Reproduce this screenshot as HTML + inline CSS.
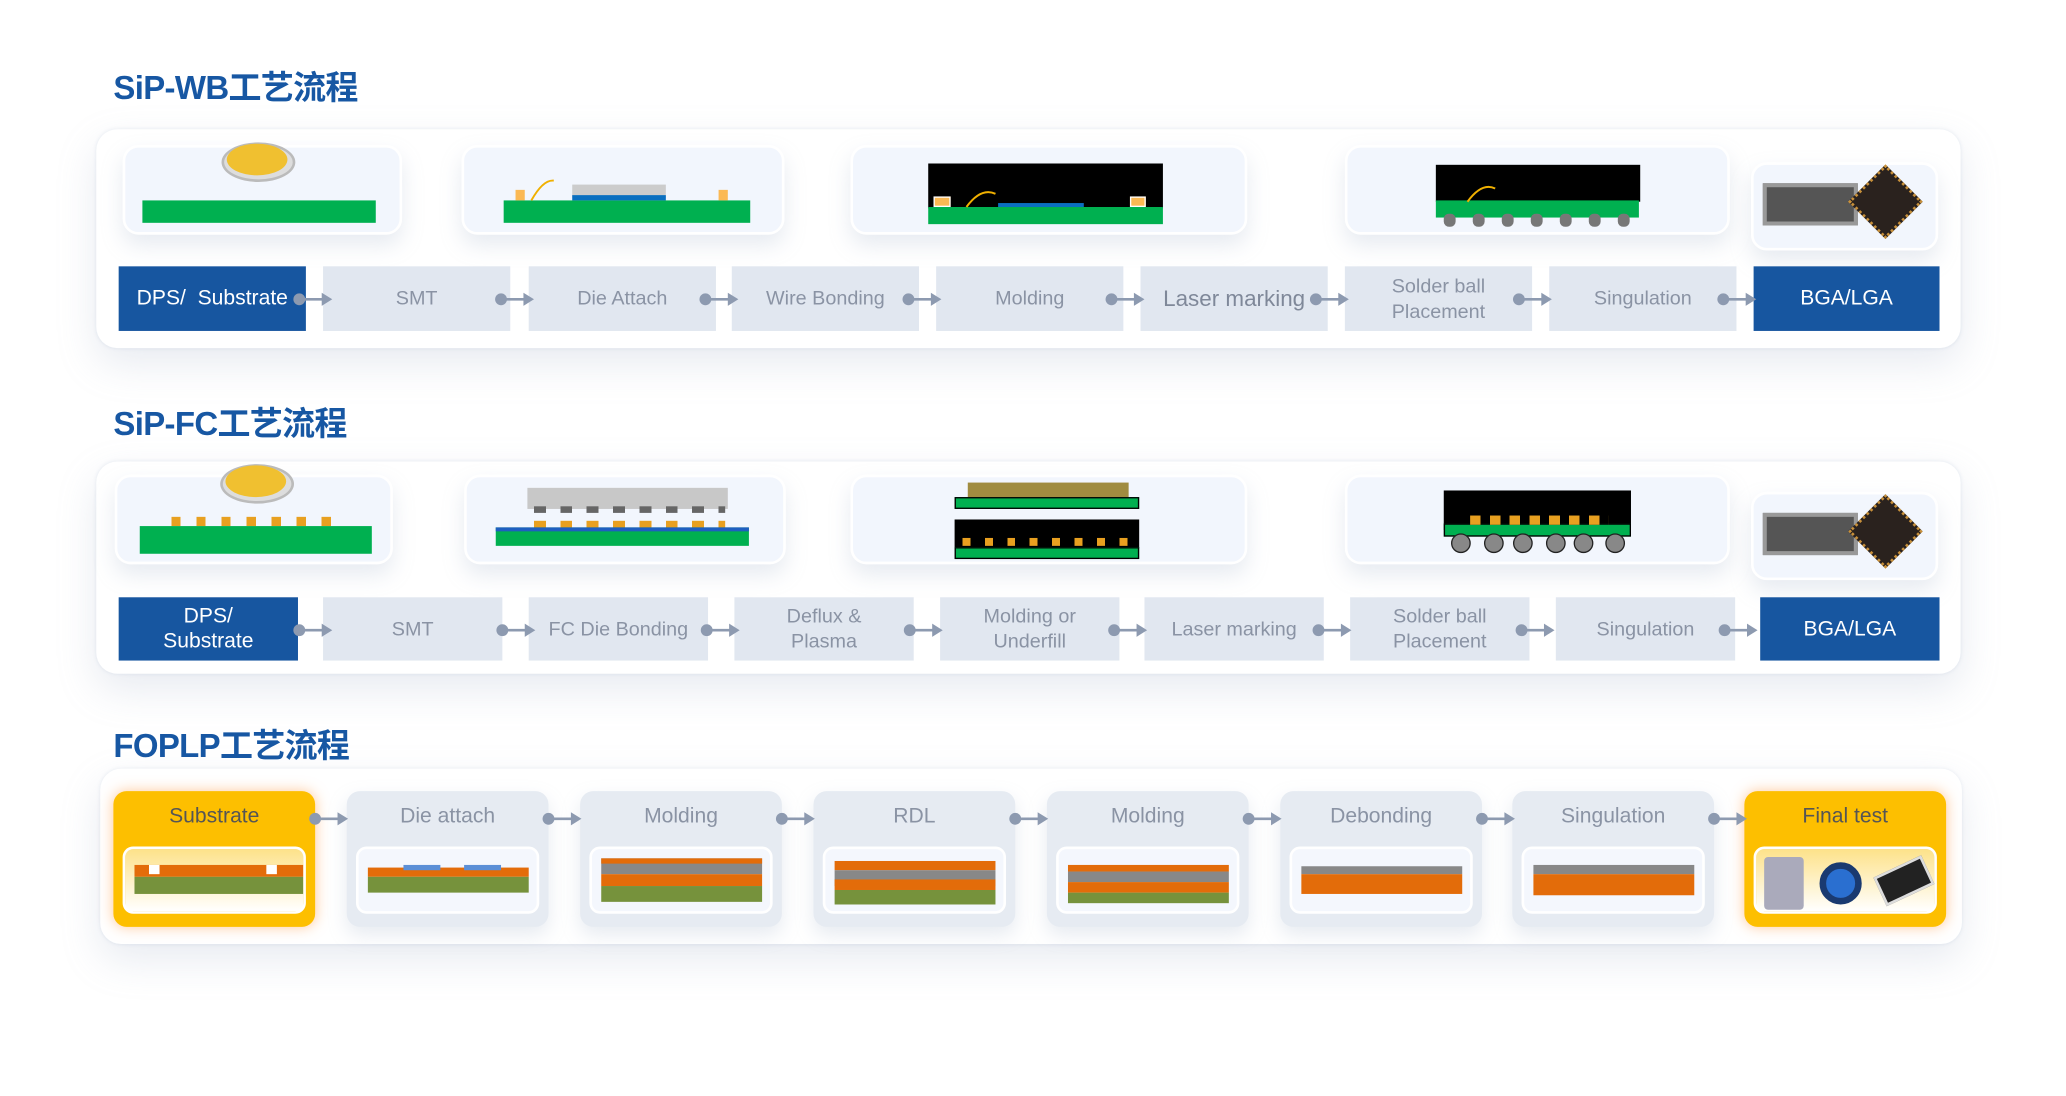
<!DOCTYPE html>
<html><head><meta charset="utf-8"><style>
*{margin:0;padding:0;box-sizing:border-box}
html,body{width:2066px;height:1095px;overflow:hidden;background:#fff}
#s{position:absolute;left:0;top:0;width:1570px;height:831px;transform:scale(1.3185);transform-origin:0 0;font-family:"Liberation Sans","Noto Sans CJK SC",sans-serif}
.a{position:absolute}
.t{position:absolute;color:#1757a3;font-weight:bold;font-size:25px;letter-spacing:-0.5px}
.panel{position:absolute;background:#fff;border-radius:16px;box-shadow:0 12px 30px rgba(150,165,190,.22),0 0 3px rgba(200,210,225,.4)}
.card{position:absolute;background:#f2f6fd;border:2px solid #fff;border-radius:12px;box-shadow:0 8px 16px rgba(160,175,200,.25)}
.b{position:absolute;background:#e1e7f0;color:#8a93a4;font-size:15px;display:flex;align-items:center;justify-content:center;text-align:center;line-height:19px}
.bl{background:#1756a0;color:#fff;font-size:16px}
.fc{position:absolute;background:#e6ebf2;border-radius:10px;top:600px;width:153px;height:103px;box-shadow:0 6px 14px rgba(160,175,200,.25)}
.fc .l{position:absolute;top:11px;width:100%;text-align:center;color:#8a93a4;font-size:16px}
.fc .w{position:absolute;left:7px;right:7px;top:42px;height:51px;background:#f4f7fd;border:2px solid #fff;border-radius:8px;overflow:hidden}
.y{background:#fdbf00;box-shadow:0 0 10px rgba(255,150,60,.5)}
.y .l{color:#555}
.y .w{background:linear-gradient(#fde28a,#fff)}
</style></head><body><div id="s">

<!-- Row 1 -->
<div class="panel" style="left:73px;top:98px;width:1414px;height:166px"></div>
<div class="t" style="left:86px;top:47px">SiP-WB工艺流程</div>

<div class="card" style="left:93px;top:110px;width:212px;height:68px"></div>
<div class="a" style="left:168px;top:108px;width:56px;height:30px;border-radius:50%;background:#ddd;border:2px solid #bbb"></div>
<div class="a" style="left:172px;top:109px;width:46px;height:24px;border-radius:50%;background:#f0c030"></div>
<div class="a" style="left:108px;top:152px;width:177px;height:17px;background:#00b050"></div>

<div class="card" style="left:350px;top:110px;width:245px;height:68px"></div>
<div class="a" style="left:382px;top:152px;width:187px;height:17px;background:#00b050"></div>
<div class="a" style="left:434px;top:140px;width:71px;height:10px;background:#ccc"></div>
<div class="a" style="left:434px;top:148px;width:71px;height:4px;background:#0a6fc0"></div>
<div class="a" style="left:391px;top:144px;width:7px;height:8px;background:#fbb954"></div>
<div class="a" style="left:545px;top:144px;width:7px;height:8px;background:#fbb954"></div>
<svg class="a" style="left:400px;top:134px" width="40" height="20"><path d="M3 18 Q12 2 20 3" stroke="#f0b000" stroke-width="1.5" fill="none"/></svg>

<div class="card" style="left:645px;top:110px;width:301px;height:68px"></div>
<div class="a" style="left:704px;top:124px;width:178px;height:34px;background:#000"></div>
<div class="a" style="left:704px;top:157px;width:178px;height:13px;background:#00b050"></div>
<div class="a" style="left:757px;top:154px;width:65px;height:3px;background:#0a6fc0"></div>
<div class="a" style="left:708px;top:149px;width:13px;height:8px;background:#fbb954;border:1px solid #fff"></div>
<div class="a" style="left:857px;top:149px;width:12px;height:8px;background:#fbb954;border:1px solid #fff"></div>
<svg class="a" style="left:730px;top:140px" width="40" height="20"><path d="M3 17 Q14 2 25 7" stroke="#f0b000" stroke-width="1.5" fill="none"/></svg>

<div class="card" style="left:1020px;top:110px;width:292px;height:68px"></div>
<div class="a" style="left:1089px;top:125px;width:155px;height:28px;background:#000"></div>
<div class="a" style="left:1089px;top:152px;width:154px;height:13px;background:#00b050"></div>
<svg class="a" style="left:1092px;top:162px" width="150" height="12"><g fill="#777"><rect x="3" y="0" width="9" height="10" rx="4"/><rect x="25" y="0" width="9" height="10" rx="4"/><rect x="47" y="0" width="9" height="10" rx="4"/><rect x="69" y="0" width="9" height="10" rx="4"/><rect x="91" y="0" width="9" height="10" rx="4"/><rect x="113" y="0" width="9" height="10" rx="4"/><rect x="135" y="0" width="9" height="10" rx="4"/></g></svg>
<svg class="a" style="left:1110px;top:136px" width="40" height="20"><path d="M3 17 Q14 2 24 7" stroke="#f0b000" stroke-width="1.5" fill="none"/></svg>

<div class="card" style="left:1328px;top:123px;width:142px;height:67px"></div>
<div class="a" style="left:1337px;top:139px;width:72px;height:32px;background:#555;border:3px solid #999"></div>
<div class="a" style="left:1410px;top:133px;width:40px;height:40px;background:#2a221e;transform:rotate(45deg);border:2px dotted #c8903a"></div>

<div class="b bl" style="left:90px;top:202px;width:142px;height:49px">DPS/&nbsp; Substrate</div>
<div class="b" style="left:245px;top:202px;width:142px;height:49px">SMT</div>
<div class="b" style="left:401px;top:202px;width:142px;height:49px">Die Attach</div>
<div class="b" style="left:555px;top:202px;width:142px;height:49px">Wire Bonding</div>
<div class="b" style="left:710px;top:202px;width:142px;height:49px">Molding</div>
<div class="b" style="left:865px;top:202px;width:142px;height:49px;font-size:17px;color:#7f8899">Laser marking</div>
<div class="b" style="left:1020px;top:202px;width:142px;height:49px">Solder ball<br>Placement</div>
<div class="b" style="left:1175px;top:202px;width:142px;height:49px">Singulation</div>
<div class="b bl" style="left:1330px;top:202px;width:141px;height:49px">BGA/LGA</div>

<!-- Row 2 -->
<div class="panel" style="left:73px;top:350px;width:1414px;height:161px"></div>
<div class="t" style="left:86px;top:302px">SiP-FC工艺流程</div>

<div class="card" style="left:87px;top:360px;width:211px;height:68px"></div>
<div class="a" style="left:167px;top:352px;width:56px;height:30px;border-radius:50%;background:#ddd;border:2px solid #bbb"></div>
<div class="a" style="left:171px;top:353px;width:46px;height:24px;border-radius:50%;background:#f0c030"></div>
<div class="a" style="left:130px;top:392px;width:130px;height:7px;background:repeating-linear-gradient(90deg,#e8a020 0 7px,transparent 7px 19px)"></div>
<div class="a" style="left:106px;top:399px;width:176px;height:21px;background:#00b050"></div>

<div class="card" style="left:352px;top:360px;width:244px;height:68px"></div>
<div class="a" style="left:400px;top:370px;width:152px;height:16px;background:#c8c8c8"></div>
<div class="a" style="left:405px;top:384px;width:145px;height:5px;background:repeating-linear-gradient(90deg,#666 0 9px,transparent 9px 20px)"></div>
<div class="a" style="left:405px;top:395px;width:145px;height:6px;background:repeating-linear-gradient(90deg,#e8a020 0 9px,transparent 9px 20px)"></div>
<div class="a" style="left:376px;top:400px;width:192px;height:14px;background:#00b050;border-top:3px solid #1f5fc0"></div>

<div class="card" style="left:645px;top:360px;width:301px;height:68px"></div>
<div class="a" style="left:734px;top:366px;width:122px;height:12px;background:#a08c40"></div>
<div class="a" style="left:724px;top:377px;width:140px;height:9px;background:#00b050;border:1px solid #000"></div>
<div class="a" style="left:724px;top:394px;width:140px;height:22px;background:#000"></div>
<div class="a" style="left:730px;top:408px;width:130px;height:6px;background:repeating-linear-gradient(90deg,#e8a020 0 6px,transparent 6px 17px)"></div>
<div class="a" style="left:724px;top:415px;width:140px;height:9px;background:#00b050;border:1px solid #000"></div>

<div class="card" style="left:1020px;top:360px;width:292px;height:68px"></div>
<div class="a" style="left:1095px;top:372px;width:142px;height:30px;background:#000"></div>
<div class="a" style="left:1095px;top:397px;width:142px;height:10px;background:#00b050;border:1px solid #000"></div>
<div class="a" style="left:1115px;top:391px;width:105px;height:7px;background:repeating-linear-gradient(90deg,#e8a020 0 8px,transparent 8px 15px)"></div>
<svg class="a" style="left:1098px;top:404px" width="140" height="16"><g fill="#888" stroke="#222"><circle cx="10" cy="8" r="7"/><circle cx="35" cy="8" r="7"/><circle cx="57" cy="8" r="7"/><circle cx="82" cy="8" r="7"/><circle cx="103" cy="8" r="7"/><circle cx="127" cy="8" r="7"/></g></svg>

<div class="card" style="left:1328px;top:373px;width:142px;height:67px"></div>
<div class="a" style="left:1337px;top:389px;width:72px;height:32px;background:#555;border:3px solid #999"></div>
<div class="a" style="left:1410px;top:383px;width:40px;height:40px;background:#2a221e;transform:rotate(45deg);border:2px dotted #c8903a"></div>

<div class="b bl" style="left:90px;top:453px;width:136px;height:48px">DPS/<br>Substrate</div>
<div class="b" style="left:245px;top:453px;width:136px;height:48px">SMT</div>
<div class="b" style="left:401px;top:453px;width:136px;height:48px">FC Die Bonding</div>
<div class="b" style="left:557px;top:453px;width:136px;height:48px">Deflux &amp;<br>Plasma</div>
<div class="b" style="left:713px;top:453px;width:136px;height:48px">Molding or<br>Underfill</div>
<div class="b" style="left:868px;top:453px;width:136px;height:48px">Laser marking</div>
<div class="b" style="left:1024px;top:453px;width:136px;height:48px">Solder ball<br>Placement</div>
<div class="b" style="left:1180px;top:453px;width:136px;height:48px">Singulation</div>
<div class="b bl" style="left:1335px;top:453px;width:136px;height:48px">BGA/LGA</div>

<!-- Row 3 -->
<div class="panel" style="left:76px;top:583px;width:1412px;height:133px"></div>
<div class="t" style="left:86px;top:546px">FOPLP工艺流程</div>

<div class="fc y" style="left:86px"><div class="l">Substrate</div><div class="w"><div class="a" style="left:7px;top:12px;width:128px;height:9px;background:#e36c0a"></div><div class="a" style="left:18px;top:12px;width:8px;height:7px;background:#fff"></div><div class="a" style="left:107px;top:12px;width:8px;height:7px;background:#fff"></div><div class="a" style="left:7px;top:21px;width:128px;height:13px;background:#76923c"></div></div></div>
<div class="fc" style="left:263px"><div class="l">Die attach</div><div class="w"><div class="a" style="left:7px;top:14px;width:122px;height:7px;background:#e36c0a"></div><div class="a" style="left:34px;top:12px;width:28px;height:4px;background:#5b8fd6"></div><div class="a" style="left:80px;top:12px;width:28px;height:4px;background:#5b8fd6"></div><div class="a" style="left:7px;top:21px;width:122px;height:12px;background:#76923c"></div></div></div>
<div class="fc" style="left:440px"><div class="l">Molding</div><div class="w"><div class="a" style="left:7px;top:7px;width:122px;height:12px;background:#888;border-top:4px solid #e36c0a"></div><div class="a" style="left:7px;top:19px;width:122px;height:9px;background:#e36c0a"></div><div class="a" style="left:7px;top:28px;width:122px;height:12px;background:#76923c"></div></div></div>
<div class="fc" style="left:617px"><div class="l">RDL</div><div class="w"><div class="a" style="left:7px;top:9px;width:122px;height:7px;background:#e36c0a"></div><div class="a" style="left:7px;top:16px;width:122px;height:12px;background:#888"></div><div class="a" style="left:7px;top:23px;width:122px;height:8px;background:#e36c0a"></div><div class="a" style="left:7px;top:31px;width:122px;height:11px;background:#76923c"></div></div></div>
<div class="fc" style="left:794px"><div class="l">Molding</div><div class="w"><div class="a" style="left:7px;top:12px;width:122px;height:5px;background:#e36c0a"></div><div class="a" style="left:7px;top:17px;width:122px;height:8px;background:#888"></div><div class="a" style="left:7px;top:25px;width:122px;height:8px;background:#e36c0a"></div><div class="a" style="left:7px;top:33px;width:122px;height:8px;background:#76923c"></div></div></div>
<div class="fc" style="left:971px"><div class="l">Debonding</div><div class="w"><div class="a" style="left:7px;top:13px;width:122px;height:6px;background:#888"></div><div class="a" style="left:7px;top:19px;width:122px;height:15px;background:#e36c0a"></div></div></div>
<div class="fc" style="left:1147px"><div class="l">Singulation</div><div class="w"><div class="a" style="left:7px;top:12px;width:122px;height:7px;background:#888"></div><div class="a" style="left:7px;top:19px;width:122px;height:16px;background:#e36c0a"></div></div></div>
<div class="fc y" style="left:1323px"><div class="l">Final test</div><div class="w"><div class="a" style="left:6px;top:6px;width:30px;height:40px;background:#aab;border-radius:3px"></div><div class="a" style="left:48px;top:10px;width:32px;height:32px;border-radius:50%;background:#2a6fd0;border:5px solid #1a3a70"></div><div class="a" style="left:92px;top:12px;width:40px;height:24px;background:#222;transform:rotate(-25deg);border:2px solid #ddd"></div></div></div>

<svg class="a" style="left:0;top:0" width="1560" height="827">
<defs><g id="k"><circle cx="0" cy="0" r="4.5" fill="#8d9ab0"/><line x1="0" y1="0" x2="20" y2="0" stroke="#8d9ab0" stroke-width="2"/><path d="M17 -5 L25 0 L17 5Z" fill="#8d9ab0"/></g></defs>
<use href="#k" x="227" y="227"/><use href="#k" x="380" y="227"/><use href="#k" x="535" y="227"/><use href="#k" x="689" y="227"/><use href="#k" x="843" y="227"/><use href="#k" x="998" y="227"/><use href="#k" x="1152" y="227"/><use href="#k" x="1307" y="227"/>
<use href="#k" x="227" y="478"/><use href="#k" x="381" y="478"/><use href="#k" x="536" y="478"/><use href="#k" x="690" y="478"/><use href="#k" x="845" y="478"/><use href="#k" x="1000" y="478"/><use href="#k" x="1154" y="478"/><use href="#k" x="1308" y="478"/>
<use href="#k" x="239" y="621"/><use href="#k" x="416" y="621"/><use href="#k" x="593" y="621"/><use href="#k" x="770" y="621"/><use href="#k" x="947" y="621"/><use href="#k" x="1124" y="621"/><use href="#k" x="1300" y="621"/>
</svg>
</div></body></html>
